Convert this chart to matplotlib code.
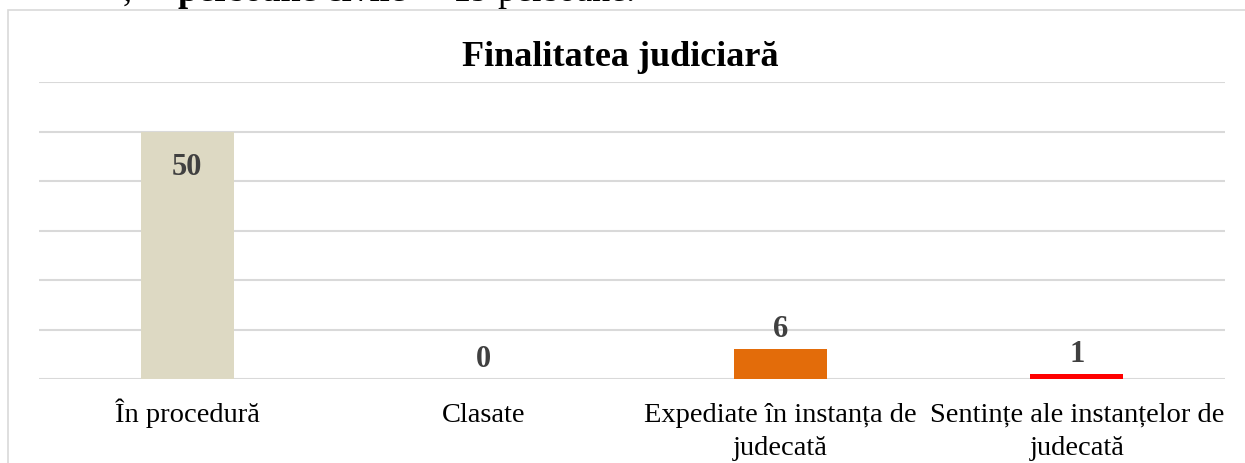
import matplotlib.pyplot as plt
from matplotlib.patches import Rectangle
from matplotlib.transforms import blended_transform_factory

categories = ['În procedură', 'Clasate', 'Expediate în instanța de\njudecată',
              'Sentințe ale instanțelor de\njudecată']
values = [50, 0, 6, 1]
colors = ['#ddd9c3', '#ddd9c3', '#e36c0a', '#ff0000']
title = 'Finalitatea judiciară'

plt.rcParams['font.family'] = ['Liberation Serif', 'DejaVu Serif']

W, H = 1245, 463
fig = plt.figure(figsize=(W / 100, H / 100), dpi=100)

# chart frame (runs off the right and bottom of the screenshot)
fig.patches.append(Rectangle((8 / W, -0.1), 1.2, 1 - 10 / H + 0.1,
                             transform=fig.transFigure, fill=False,
                             edgecolor='#d9d9d9', linewidth=1.2))

# page text cut off above the chart
top_y = 1 - 1 / H
fig.text(123 / W, top_y, ',', fontsize=26, va='baseline')
fig.text(178 / W, top_y, 'persoane civile', fontsize=26,
         fontweight='bold', va='baseline')
fig.text(426 / W, top_y, '– 19 persoane.', fontsize=26, va='baseline')

ax = fig.add_axes([39 / W, 1 - 379 / H, (1225 - 39) / W, (379 - 82) / H])
x = range(len(categories))
bars = ax.bar(x, values, width=0.313, color=colors, zorder=2)
ax.set_ylim(0, 60)
ax.set_xlim(-0.5, len(categories) - 0.5)
ax.set_yticks(range(0, 61, 10))
ax.yaxis.grid(True, color='#d9d9d9', linewidth=1.5, zorder=0)
ax.tick_params(left=False, labelleft=False, bottom=False, labelbottom=False)
for s in ax.spines.values():
    s.set_visible(False)

# category labels, one line at a time so baselines line up
tr = blended_transform_factory(ax.transData, fig.transFigure)
for i, lab in enumerate(categories):
    for j, line in enumerate(lab.split('\n')):
        ax.text(i, 1 - (422 + 33 * j) / H, line, transform=tr, ha='center',
                va='baseline', fontsize=20.5, clip_on=False)

for b, v in zip(bars, values):
    off = -26 if v > 0.8 * 60 else 14
    ax.annotate(str(v), (b.get_x() + b.get_width() / 2, v),
                xytext=(0, off), textcoords='offset points',
                ha='center', va='center', fontsize=22, fontweight='bold',
                color='#404040')

fig.text(620 / W, 1 - 57 / H, title, ha='center', va='center',
         fontsize=26, fontweight='bold')

fig.savefig('out.png', dpi=100)
